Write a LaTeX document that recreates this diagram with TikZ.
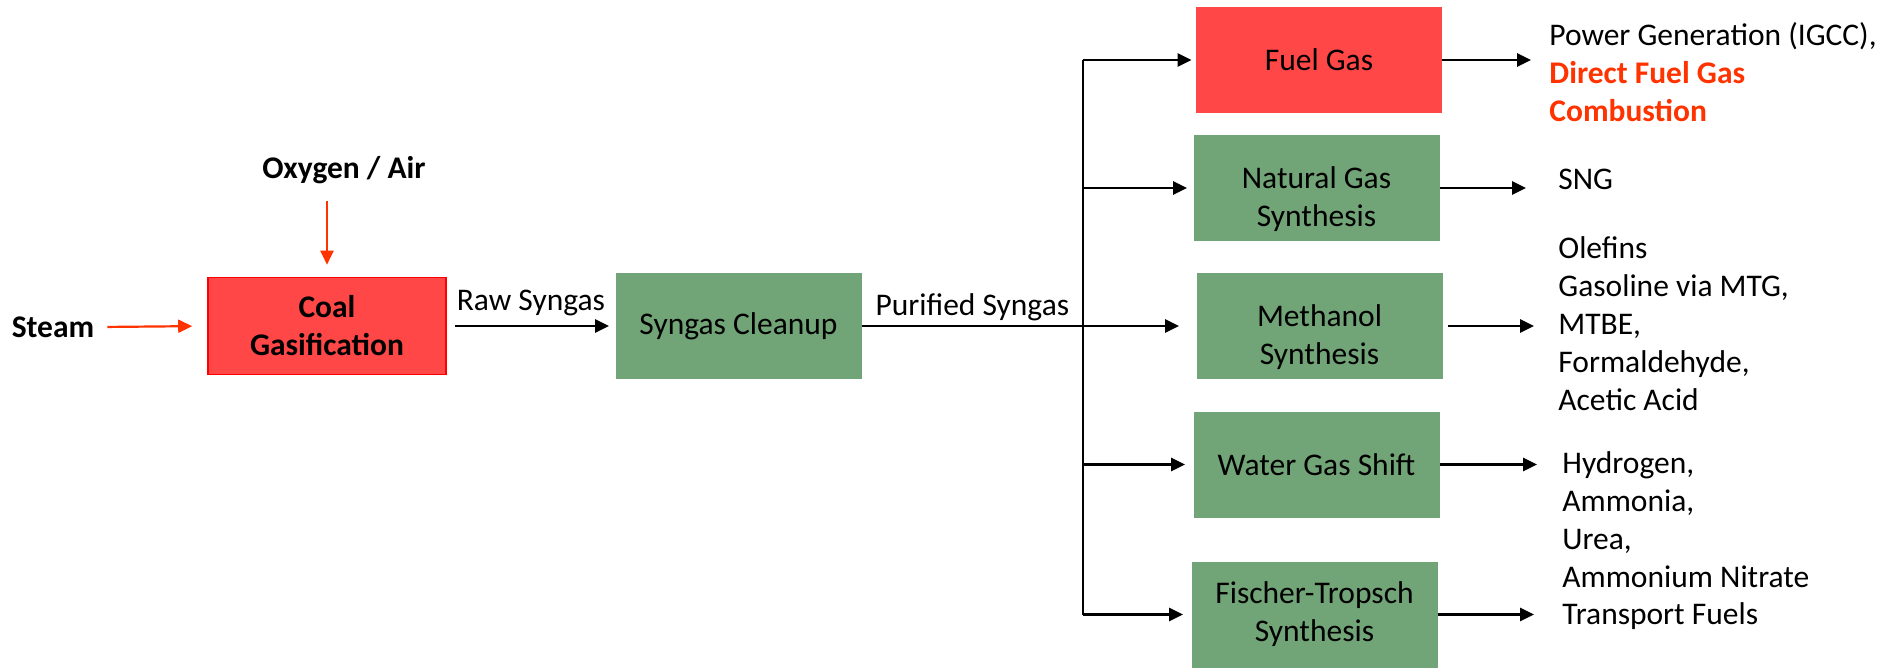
\documentclass[tikz,border=0pt]{standalone}
\usepackage{fontspec}
\setmainfont{Carlito}
\usetikzlibrary{positioning, arrows.meta}

\definecolor{hotred}{RGB}{255,71,71}
\definecolor{procgreen}{RGB}{113,164,118}
\definecolor{feedred}{RGB}{255,51,0}

\newcommand{\lowstrut}{\rule{0pt}{22.5pt}}

\begin{document}
\begin{tikzpicture}[
            x = 0.5pt, y = -0.5pt,
            > = {Triangle[length=7pt, width=6.5pt]},
            every node/.style = {font=\fontsize{15.75}{19}\selectfont},
            proc/.style = {rectangle, fill=procgreen, minimum width=123pt, minimum height=53pt, align=center, inner sep=0pt},
            hotproc/.style = {proc, fill=hotred},
            product/.style = {anchor=west, align=left, inner sep=0pt},
            feed/.style = {font=\fontsize{15.75}{19}\selectfont\bfseries},
            flow/.style = {->, line width=1.3pt},
            feedflow/.style = {->, line width=1.1pt, draw=feedred, >={Triangle[length=7pt, width=6.5pt]}}
        ]
            \useasboundingbox (0,0) rectangle (1887,669);

            % Gasifier and its feeds
            \node[hotproc, draw=red, line width=0.8pt, minimum width=119pt, minimum height=48.5pt, font=\fontsize{15.75}{19}\selectfont\bfseries] (coal) at (327,326) {Coal\\Gasification};
            \node[feed] (steam) at (53,327) {Steam};
            \node[feed] (oxy) at (344,170) {Oxygen / Air};
            \draw[feedflow, shorten <=3pt, shorten >=7.5pt] (steam.east) -- (coal.west);
            \draw[feedflow, shorten <=5pt, shorten >=6pt] (coal.north |- oxy.south) -- (coal.north);

            % Cleanup
            \node[proc] (clean) at (738.5,326) {Syngas Cleanup};
            \draw[flow, shorten <=4pt, shorten >=3pt] (coal.east) -- node[above=1pt] {Raw Syngas} (clean.west);

            % Downstream units
            \node[hotproc] (fuel) at (1319,60) {Fuel Gas};
            \node[proc] (ngs) at (1316.5,188) {\lowstrut Natural Gas\\Synthesis};
            \node[proc] (meth) at (1319.5,326) {\lowstrut Methanol\\Synthesis};
            \node[proc] (wgs) at (1316.5,464.5) {Water Gas Shift};
            \node[proc] (ft) at (1314.5,614.5) {Fischer-Tropsch\\Synthesis};

            % Distribution header
            \coordinate (bus) at (1083,0);
            \draw[line width=1.3pt] (bus |- fuel) -- (bus |- ft);
            \draw[flow, shorten >=8.5pt] (clean.east) -- node[pos=0.025, above right=0pt and 0pt, inner sep=2pt] {Purified Syngas} (meth.west);
            \draw[flow, shorten >=2pt] (bus |- fuel) -- (fuel.west);
            \draw[flow, shorten >=3pt] (bus |- ngs) -- (ngs.west);
            \draw[flow, shorten >=4pt] (bus |- wgs) -- (wgs.west);
            \draw[flow, shorten >=4pt] (bus |- ft) -- (ft.west);

            % Products
            \node[product] (power) at (1549,72) {Power Generation (IGCC),\\\textcolor{feedred}{\bfseries Direct Fuel Gas}\\\textcolor{feedred}{\bfseries Combustion}};
            \node[product] (sng) at (1558,179) {SNG};
            \node[product] (chem) at (1558,324) {Olefins\\Gasoline via MTG,\\MTBE,\\Formaldehyde,\\Acetic Acid};
            \node[product] (nh3) at (1562,520) {Hydrogen,\\Ammonia,\\Urea,\\Ammonium Nitrate};
            \node[product] (fuels) at (1562,616) {Transport Fuels};

            \draw[flow, shorten >=9pt] (fuel.east) -- (fuel.east -| power.west);
            \draw[flow, shorten >=16pt] (ngs.east) -- (ngs.east -| sng.west);
            \draw[flow, shorten <=2.5pt, shorten >=12pt] (meth.east) -- (meth.east -| chem.west);
            \draw[flow, shorten >=12.5pt] (wgs.east) -- (wgs.east -| nh3.west);
            \draw[flow, shorten >=14pt] (ft.east) -- (ft.east -| fuels.west);

        \end{tikzpicture}
\end{document}
